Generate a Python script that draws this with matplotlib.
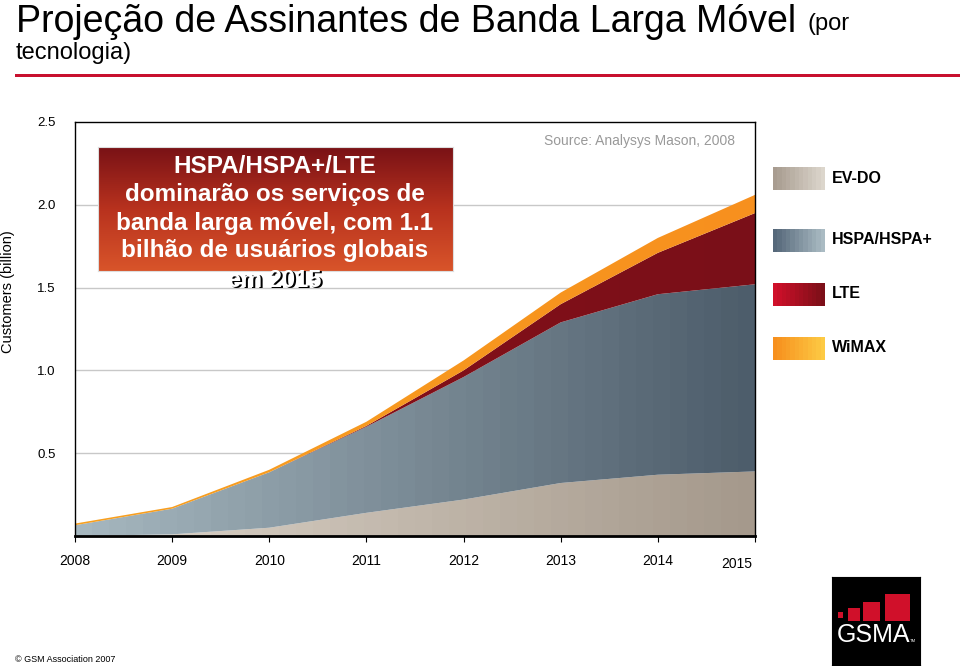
import numpy as np
import matplotlib.pyplot as plt
from matplotlib.colors import LinearSegmentedColormap
from matplotlib.patches import Rectangle
from matplotlib.transforms import ScaledTranslation

# values in billions
years = [2008, 2009, 2010, 2011, 2012, 2013, 2014, 2015]
evdo = [0.00, 0.01, 0.05, 0.14, 0.22, 0.32, 0.37, 0.39]
hspa = [0.065, 0.155, 0.335, 0.52, 0.74, 0.97, 1.09, 1.13]
lte = [0.0, 0.0, 0.0, 0.005, 0.04, 0.11, 0.25, 0.43]
wimax = [0.01, 0.01, 0.015, 0.025, 0.06, 0.07, 0.09, 0.11]
series_names = ["EV-DO", "HSPA/HSPA+", "LTE", "WiMAX"]
yticks = [0.5, 1.0, 1.5, 2.0, 2.5]

# left colour -> right colour of each area
area_cols = [("#ddd5ca", "#a5998c"), ("#a6b7bf", "#4d5d6b"),
             ("#8a1019", "#7a0f18"), ("#f7a020", "#f7901e")]
legend_cols = [("#a89c90", "#dcd6cc"), ("#56687a", "#aabbc3"),
               ("#d0102a", "#7c0f18"), ("#f7901e", "#fdca44")]

plt.rcParams['font.family'] = ['Liberation Sans', 'DejaVu Sans']

fig = plt.figure(figsize=(9.6, 6.66), dpi=100)
ax = fig.add_axes([75/960, 1-536/666, 680/960, 414/666])

def grad_img(c1, c2, n=40):
    cm = LinearSegmentedColormap.from_list("g", [c1, c2])
    return cm, np.linspace(0, 1, n).reshape(1, -1)

data = np.array([evdo, hspa, lte, wimax])
base = np.zeros(len(years))
for vals, (c1, c2) in zip(data, area_cols):
    top = base + vals
    poly = ax.fill_between(years, base, top, facecolor="none", edgecolor="none", zorder=2)
    cm, g = grad_img(c1, c2)
    im = ax.imshow(g, cmap=cm, aspect="auto", interpolation="nearest",
                   extent=[years[0], years[-1], 0, 2.5], zorder=2)
    im.set_clip_path(poly.get_paths()[0], transform=ax.transData)
    base = top

ax.set_xlim(years[0], years[-1])
ax.set_ylim(0, 2.5)
for y in yticks[:-1]:
    ax.axhline(y, color="#c8c8c8", lw=1, zorder=1)
ax.set_yticks(yticks)
ax.set_yticklabels(["%.1f" % v for v in yticks], fontsize=9.5)
ax.tick_params(axis="y", length=0, pad=14)
ax.set_xticks(years)
ax.set_xticklabels([str(y) for y in years], fontsize=10)
ax.tick_params(axis="x", length=4, pad=9)
lab = ax.get_xticklabels()[-1]
lab.set_transform(lab.get_transform() + ScaledTranslation(-0.18, -0.03, fig.dpi_scale_trans))
for s in ax.spines.values():
    s.set_linewidth(1)
ax.spines["bottom"].set_linewidth(2)

ax.text(0.97, 0.955, "Source: Analysys Mason, 2008", transform=ax.transAxes,
        ha="right", va="center", fontsize=10, color="#999999")

fig.text(8/960, 1-292/666, "Customers (billion)", rotation=90, ha="center",
         va="center", fontsize=10.5)

# title and red rule
t1 = fig.text(16/960, 1-22/666, "Projeção de Assinantes de Banda Larga Móvel",
              fontsize=27, va="center")
fig.canvas.draw()
x_end = t1.get_window_extent().x1
fig.text((x_end + 11)/960, 1-24/666, "(por", fontsize=17, va="center")
fig.text(16/960, 1-53/666, "tecnologia)", fontsize=17, va="center")
fig.add_artist(Rectangle((15/960, 1-77/666), 945/960, 3/666, transform=fig.transFigure,
                         color="#c8102e", lw=0))

# callout box with vertical gradient
bx = fig.add_axes([98/960, 1-271/666, 355/960, 124/666])
cm = LinearSegmentedColormap.from_list("b", ["#7a1216", "#b8321e", "#d8542a"])
bx.imshow(np.linspace(0, 1, 60).reshape(-1, 1), cmap=cm, aspect="auto",
          extent=[0, 1, 0, 1])
bx.set_xticks([]); bx.set_yticks([])
for s in bx.spines.values():
    s.set_color("#dddddd")
lines = ["HSPA/HSPA+/LTE", "dominarão os serviços de",
         "banda larga móvel, com 1.1", "bilhão de usuários globais"]
ys = [166, 195, 223, 251]
for t, y in zip(lines, ys):
    fig.text(275/960, 1-y/666, t, ha="center", va="center", fontsize=17.5,
             color="white", fontweight="bold")
fig.text(276.5/960, 1-281.5/666, "em 2015", ha="center", va="center", fontsize=17,
         color="black", fontweight="bold")
fig.text(275/960, 1-280/666, "em 2015", ha="center", va="center", fontsize=17,
         color="white", fontweight="bold")

# legend with gradient swatches
leg_y = [178, 240, 294, 348]
for name, (c1, c2), y in zip(series_names, legend_cols, leg_y):
    la = fig.add_axes([773/960, 1-(y+12)/666, 52/960, 23/666])
    cm, g = grad_img(c1, c2, 12)
    la.imshow(g, cmap=cm, aspect="auto", interpolation="nearest")
    la.axis("off")
    fig.text(832/960, 1-y/666, name, va="center", fontsize=11.5, fontweight="bold")

# GSMA logo
lg = fig.add_axes([832/960, 1-665/666, 88/960, 88/666])
lg.set_facecolor("black")
lg.set_xlim(0, 88); lg.set_ylim(0, 88)
lg.set_xticks([]); lg.set_yticks([])
for (x0, b, w, h) in [(6, 47, 5, 6), (16, 44, 12, 13), (31, 44, 17, 19), (53, 44, 25, 27)]:
    lg.add_patch(Rectangle((x0, b), w, h, color="#d0102a", lw=0))
lg.text(41, 29.5, "GSMA", color="white", ha="center", va="center", fontsize=18)
lg.text(81, 24, "TM", color="white", ha="center", va="center", fontsize=3)

fig.text(15/960, 1-660/666, "© GSM Association 2007", fontsize=6.5, va="center")

fig.savefig("out.png", dpi=100)
